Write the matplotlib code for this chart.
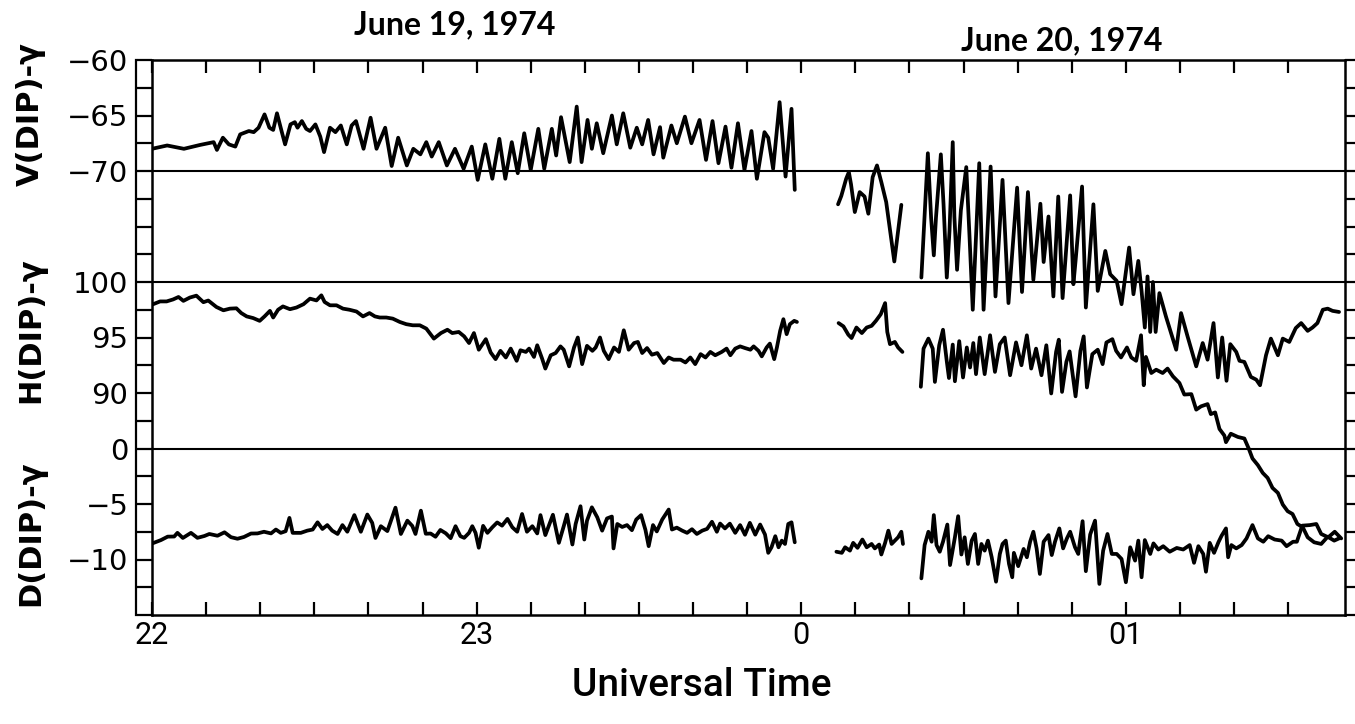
import numpy as np
import matplotlib.pyplot as plt

# ------------------------------------------------------------------ data
# time in minutes after 22:00 UT, field values in gamma (nT)

v1_t = [0, 2.8, 5.9, 8.9, 11.4, 12.0, 13.1, 14.2, 15.4, 16.3, 17.9, 18.8, 19.7, 20.8, 21.7, 22.4,
        23.1, 24.0, 24.6, 25.6, 26.4, 26.9, 27.7, 28.5, 29.2, 30.2, 31.1, 31.8, 32.9, 33.9, 34.9,
        36.0, 36.9, 37.7, 39.1, 40.4, 41.5, 43.1, 44.3, 45.5, 47.1, 48.3, 49.6, 50.7, 51.7,
        53.0, 54.5, 56.0, 57.6, 59.1, 60.2, 61.6, 62.9, 64.2, 65.3, 66.5, 67.6, 68.8, 70.0, 71.4,
        72.5, 73.9, 74.7, 75.6, 77.2, 78.5, 79.4, 80.5, 81.3, 82.2, 83.4, 85.0, 85.9, 87.1, 88.4,
        89.6, 90.6, 91.7, 92.7, 93.9, 94.5, 96.0, 97.0, 98.5, 99.7, 101.2, 102.4, 103.6, 104.7,
        106.0, 107.1, 108.3, 109.5, 110.8, 111.8, 113.2, 113.9, 114.8, 116.0, 117.1, 118.2, 118.8]
v1 = [-68.0, -67.7, -68.0, -67.65, -67.4, -68.1, -67.0, -67.6, -67.8, -66.7, -66.4, -66.5, -66.1,
      -64.9, -66.1, -66.3, -64.8, -66.5, -67.6, -65.8, -65.6, -66.1, -65.5, -66.2, -66.4, -65.8,
      -66.9, -68.3, -66.1, -66.5, -65.9, -67.6, -65.9, -65.5, -68.0, -65.2, -68.0, -66.1, -69.55,
      -67.0, -69.5, -68.0, -68.5, -67.4, -68.7,
      -67.4, -69.5, -68.0, -69.8, -67.8, -70.8, -67.6, -70.7, -67.1, -70.7, -67.4, -70.2, -66.6,
      -69.9, -66.2, -69.8, -66.2, -68.6, -65.15, -69.2, -64.2, -69.2, -65.4, -68.0, -65.7, -68.4,
      -65.0, -67.6, -64.8, -67.9, -66.1, -67.6, -65.4, -68.5, -66.05, -68.8, -65.9, -67.5, -65.1,
      -67.5, -65.4, -69.0, -65.5, -69.3,
      -66.0, -69.7, -65.7, -69.9, -66.4, -70.7, -66.5, -67.0, -69.8, -63.8, -70.5, -64.4, -71.7]

v2_t = [126.8, 127.4, 128.3, 128.8, 129.2, 129.9, 130.8, 131.7, 132.4, 133.2, 134.0, 134.8,
        135.7, 137.2, 138.5]
v2 = [-73.0, -72.25, -70.7, -70.1, -71.2, -73.7, -71.9, -72.3, -73.85, -70.55, -69.5, -71.0,
      -72.8, -78.15, -73.05]

v3_t = [142.2, 143.4, 144.0, 144.5, 144.9, 145.8, 146.3, 146.9, 147.4, 148.0, 148.3, 148.8,
        149.5, 150.5, 151.1, 151.7, 152.9, 153.7, 155.0, 155.9, 157.2, 158.3, 159.9, 160.8,
        161.9, 162.9, 164.2, 164.8, 165.7, 166.6, 167.5, 168.3, 169.7, 170.3, 170.7, 171.9,
        172.6, 174.0, 174.8, 176.2, 177.1, 178.3, 179.2, 180.6, 181.4, 182.3, 182.9, 183.5,
        184.0, 184.5, 185.0, 185.5, 186.2, 187.4, 189.3, 190.2, 191.4, 193.0, 194.2, 195.1,
        196.2, 197.0, 197.8, 198.6, 199.3, 200.4, 201.0, 201.9, 203.1, 204.1, 204.8, 205.9,
        206.8, 208.1, 209.0, 210.2, 211.4, 212.4, 213.6, 214.5, 215.4, 216.4, 217.3, 218.2, 219.4]
v3 = [-79.6, -68.4, -74.2, -77.6, -74.2, -68.5, -73.0, -79.6, -75.4, -67.4, -74.1, -78.9,
      -73.55, -69.65, -75.9, -82.5, -69.3, -82.5, -69.6, -81.3, -70.8, -81.9, -71.5, -80.9,
      -71.9, -79.8, -72.95, -78.2, -74.1, -81.3, -72.3, -81.45, -72.2, -80.2, -78.1, -71.4,
      -82.3, -73.0, -80.8, -77.2, -79.3, -79.9, -82.0, -76.9, -81.1, -78.1, -80.8, -84.1,
      -79.5, -84.5, -80.0, -84.5, -81.0, -83.1, -86.1, -82.8, -84.9, -87.6, -85.5, -87.0,
      -83.7, -88.6, -85.0, -88.9, -85.6, -86.3, -87.1, -87.2, -88.55, -88.8, -89.3, -86.6,
      -85.1, -86.6, -85.1, -85.4, -84.15, -83.7, -84.4, -84.1, -83.7, -82.5, -82.4, -82.6, -82.7]

h1_t = [0, 1.5, 2.7, 3.9, 4.9, 5.8, 7.0, 8.2, 9.5, 10.4, 11.9, 13.2, 14.4, 15.6, 16.5, 17.5,
        18.7, 19.9, 20.8, 21.8, 22.4, 23.3, 24.2, 25.5, 26.7, 28.0, 29.2, 30.4, 31.3, 31.9, 32.9,
        34.1, 35.3, 36.5, 37.8, 39.0, 40.2, 41.2, 42.1, 43.3, 44.5, 45.8, 47.0, 48.2, 49.5, 50.7,
        52.1, 53.4, 54.6, 55.5, 56.7, 57.7, 58.6, 59.5, 60.4, 61.7, 62.6, 63.5, 64.4, 65.4, 66.3,
        67.4, 68.1, 69.1, 69.7, 70.6, 71.2, 72.1, 72.7, 73.7, 74.6, 75.5, 76.1, 77.1, 78.0, 78.7,
        79.5, 80.4, 81.4, 82.0, 82.8, 83.5, 84.4, 85.4, 86.3, 87.2, 88.1, 89.1, 89.8, 90.6, 91.5,
        92.4, 93.4, 94.6, 95.5, 96.4, 97.7, 98.6, 99.5, 100.4, 101.4, 102.3, 103.2, 104.1,
        105.3, 106.2, 106.9, 107.8, 108.7, 109.6, 110.6, 111.2, 112.1, 112.7, 113.6, 114.2,
        115.0, 115.5, 116.1, 116.7, 117.3, 117.9, 118.7, 119.2]
h1 = [97.96, 98.25, 98.25, 98.43, 98.65, 98.3, 98.6, 98.77, 98.18, 98.33, 97.75, 97.45, 97.6,
      97.63, 97.2, 96.9, 96.75, 96.5, 96.9, 97.4, 96.8, 97.5, 97.8, 97.55, 97.7, 98.0, 98.5,
      98.34, 98.8, 98.2, 97.9, 97.9, 97.6, 97.5, 97.34, 96.9, 97.2, 96.9, 96.8, 96.8, 96.7,
      96.4, 96.2, 96.1, 96.1, 95.8,
      94.9, 95.4, 95.7, 95.4, 95.5, 95.1, 94.5, 95.4, 93.9, 94.85, 93.65, 93.05, 93.8, 93.2,
      94.0, 92.9, 93.85, 93.7, 94.0, 93.25, 94.3, 93.1, 92.2, 93.4, 93.6, 94.2, 93.9, 92.4,
      94.1, 95.0, 92.6, 94.25, 93.8, 94.1, 95.0, 93.8, 93.05, 94.1, 93.7, 95.65, 93.9, 94.5,
      94.6, 93.6, 94.05, 93.45, 93.6, 92.7, 93.2, 93.0, 93.0, 92.75, 93.2, 92.6, 93.5, 93.2,
      93.7, 93.4,
      93.7, 94.0, 93.4, 94.0, 94.2, 94.05, 93.9, 94.2, 93.8, 93.3, 94.1, 94.45, 93.05, 94.1,
      95.6, 96.65, 95.3, 96.2, 96.5, 96.4]

h2_t = [126.9, 127.8, 128.7, 129.3, 130.2, 131.2, 132.1, 133.0, 133.8, 134.7, 135.5, 135.9,
        136.4, 137.3, 137.9, 138.7]
h2 = [96.3, 96.0, 95.25, 94.95, 95.9, 95.4, 95.9, 96.05, 96.5, 97.1, 98.1, 95.5, 94.4, 94.6,
      94.1, 93.7]

h3_t = [142.1, 142.6, 143.5, 144.3, 144.7, 145.5, 146.2, 146.9, 147.3, 148.0, 148.4, 149.2,
        149.9, 150.6, 151.2, 151.8, 152.3, 153.0, 153.9, 154.9, 155.8, 156.7, 157.6, 158.6,
        159.7, 160.7, 161.7, 162.5, 163.4, 164.4, 165.3, 166.2, 167.1, 167.6, 168.2, 169.0,
        169.6, 170.7, 171.6, 172.2, 172.8, 173.8, 174.8, 175.7, 176.4, 177.5, 178.2, 179.1,
        180.2, 181.0, 181.9, 182.8, 183.3, 183.7, 184.7, 185.6, 186.8, 187.7, 188.7, 189.9,
        190.8, 192.1, 193.0, 193.9, 195.1, 195.7, 196.5, 197.3, 198.2, 198.5, 199.4, 200.7,
        201.9, 202.7, 203.4, 204.4, 205.3, 206.2, 207.1, 208.1, 209.0, 209.9, 210.8, 211.7,
        212.7, 213.6, 214.8, 216.1, 217.3, 218.5, 219.4]
h3 = [90.56, 94.0, 94.9, 94.0, 91.0, 94.3, 95.7, 92.85, 91.35, 94.36, 91.06, 94.67, 91.4, 94.1,
      92.3, 94.5, 91.7, 95.0, 91.7, 95.2, 91.9, 94.4, 95.0, 91.6,
      94.56, 92.5, 95.2, 92.2, 94.0, 91.6, 94.3, 89.96, 93.7, 94.8, 90.1, 92.8, 93.75, 89.7,
      93.8, 95.1, 90.5, 93.5, 93.9, 92.6, 94.55, 94.85, 93.8, 93.2, 94.1, 93.2, 92.9, 95.2,
      90.7, 93.25, 91.8, 92.1, 91.8, 92.2, 91.5, 90.9, 89.86, 89.9, 88.5, 88.8, 89.0, 88.1,
      88.25, 86.76, 86.17, 85.57, 86.33, 86.04, 85.9, 85.0, 84.1, 83.5, 82.8, 82.35, 81.45,
      81.0, 79.95, 79.35, 79.1, 78.2, 77.9, 77.0, 76.55, 76.4, 77.05, 76.7, 76.9]

d1_t = [0, 1.66, 2.9, 4.1, 4.7, 5.7, 7.2, 8.4, 9.7, 10.6, 12.1, 13.4, 14.6, 15.8, 17.0, 18.3,
        19.5, 20.7, 22.0, 22.9, 23.8, 24.7, 25.4, 26.0, 27.5, 28.7, 29.7, 30.6, 31.5, 32.4, 33.3,
        34.3, 35.2, 36.1, 37.4, 38.6, 39.8, 40.7, 41.3, 42.3, 43.5, 45.0, 46.0, 47.2, 48.1, 48.7,
        49.7, 50.6,
        51.5, 52.4, 53.3, 54.3, 55.2, 56.1, 57.0, 57.7, 58.6, 59.2, 59.8, 60.4, 61.2, 62.0, 62.9,
        63.8, 64.7, 65.7, 66.6, 67.5, 68.4, 69.3, 70.3, 71.2, 71.8, 72.7, 74.1, 75.2, 76.1, 76.7,
        77.7, 78.3, 79.2, 79.9, 80.4, 81.3, 82.3, 83.2, 84.1, 85.0, 85.3, 86.0, 86.9, 87.8, 88.7,
        89.5, 90.4, 91.2, 91.8, 92.6, 93.3, 94.3, 95.5, 96.1, 97.0, 98.0, 98.9, 99.8, 100.7,
        101.7, 102.6, 103.5, 104.4,
        105.0, 105.9, 106.8, 107.8, 108.7, 109.6, 110.5, 111.5, 112.4, 113.3, 113.9, 114.5,
        115.2, 115.8, 116.4, 117.0, 117.6, 118.2, 118.8]
d1 = [-8.56, -8.25, -7.94, -7.93, -7.6, -8.06, -7.6, -8.05, -7.88, -7.7, -7.86, -7.55, -7.99,
      -8.13, -7.97, -7.66, -7.65, -7.5, -7.65, -7.3, -7.6, -7.45, -6.25, -7.6, -7.6, -7.4, -7.3,
      -6.65, -7.25, -6.9, -7.4, -7.7, -6.9, -7.5, -6.0, -7.5, -5.95, -6.7, -8.06, -7.0, -7.44,
      -5.33, -7.7, -6.5, -6.97, -7.7, -5.6, -7.68,
      -7.66, -7.95, -7.34, -7.64, -8.08, -7.0, -7.9, -8.05, -7.6, -7.0, -7.6, -8.94, -6.97,
      -7.6, -7.1, -6.66, -6.95, -6.34, -7.1, -7.5, -5.9, -7.5, -7.0, -7.65, -6.0, -7.8, -5.97,
      -8.5, -7.0, -5.95, -8.65, -6.8, -5.2, -8.2, -6.5, -5.3, -6.2, -7.4, -6.3, -6.13, -9.0,
      -6.8, -7.07, -6.9, -7.36, -6.4, -6.0, -7.33, -8.8, -6.9, -7.47, -6.4, -5.5, -7.3, -7.13,
      -7.4, -7.6, -7.27, -7.7, -7.4, -7.24, -6.6, -7.5,
      -6.76, -7.2, -6.77, -7.6, -6.9, -7.77, -6.7, -7.76, -6.85, -7.75, -9.4, -8.9, -7.9,
      -8.9, -8.3, -8.6, -6.8, -6.65, -8.45]

d2_t = [126.5, 127.5, 128.1, 129.0, 129.6, 130.4, 131.3, 132.1, 133.0, 133.6, 134.4, 134.8,
        135.5, 136.1, 136.7, 137.3, 137.9, 138.5, 138.8]
d2 = [-9.3, -9.4, -8.9, -9.2, -8.5, -8.95, -8.2, -8.9, -8.6, -9.0, -8.65, -9.55, -8.5, -7.4,
      -8.6, -8.3, -8.0, -7.5, -8.6]

d3_t = [142.2, 142.8, 143.5, 144.1, 144.5, 145.0, 145.6, 146.2, 147.0, 147.5, 148.4, 149.0,
        149.6, 150.2, 150.8, 151.5, 152.1, 152.7, 153.3, 153.9, 154.5, 155.2, 156.0, 156.7,
        157.2, 157.8, 158.4, 159.0,
        159.3, 160.1, 161.1, 161.7, 162.3, 162.9, 163.5, 164.1, 164.8, 165.7, 166.3, 166.9,
        167.7, 168.4, 169.1, 169.7, 170.6, 171.2, 172.0, 172.6, 173.4, 174.3, 175.1, 175.8,
        176.6, 177.4, 178.3, 179.2, 180.0, 180.8, 181.7, 182.3, 182.9, 183.5, 184.5, 185.1,
        186.0, 186.9, 188.1, 189.4, 190.6, 191.8, 192.6, 193.4, 194.3, 194.8, 195.5, 196.3,
        197.1, 197.7, 198.5, 198.9, 199.5, 200.4, 201.4, 202.3, 203.4, 204.4, 205.4, 206.3,
        207.5, 208.8, 209.7, 210.9, 211.6, 212.6, 214.0, 215.2, 216.1, 217.4, 218.6, 219.8]
d3 = [-11.7, -8.7, -7.5, -8.4, -6.0, -8.7, -9.3, -8.4, -6.85, -10.5, -8.0, -6.1, -9.55, -8.0,
      -10.4, -8.3, -7.7, -10.4, -8.6, -9.2, -8.3, -9.8, -12.0, -9.5, -8.6, -8.3, -10.4, -11.6,
      -9.4, -10.6, -9.05, -9.8, -8.4, -7.5, -9.0, -11.3, -8.4, -7.8, -9.6, -8.4, -7.2, -9.0,
      -8.1, -7.5, -8.9, -9.5, -6.55, -11.05, -7.75, -6.5, -12.2, -9.2, -7.7, -9.5, -9.5,
      -9.95, -12.05, -8.9, -10.1, -8.3, -11.6, -8.25, -9.5, -8.55, -9.1, -8.8, -9.3, -8.96,
      -9.1, -8.7, -10.3, -8.8, -9.5, -11.1, -8.5, -9.4, -8.45, -7.85, -7.2, -9.8, -8.7, -9.0,
      -8.7, -8.1, -6.9, -8.1, -8.4, -7.9, -8.2, -8.3, -8.8, -8.4, -8.4, -6.95, -6.9, -6.8,
      -7.7, -8.0, -7.5, -8.1]

# each component sits on its own zero of one common vertical scale
v_off, h_off, d_off = 110, -70, 15
v_ref, h_ref, d_ref = -70, 100, 0

hour_ticks = [0, 60, 120, 180]
hour_labels = ['22', '23', '0', '01']
y_label_pos = {50: '\u221260', 45: '\u221265', 40: '\u221270', 30: '100', 25: '95',
               20: '90', 15: '0', 10: '\u22125', 5: '\u221210'}

# ------------------------------------------------------------------ figure
fig = plt.figure(figsize=(13.55, 7.24), dpi=100)
ax = fig.add_axes([152 / 1355, 1 - 615 / 724, 1193 / 1355, 555 / 724])

trace = dict(color='k', lw=2.7, solid_joinstyle='round', solid_capstyle='round')
for t, v in [(v1_t, v1), (v2_t, v2), (v3_t, v3)]:
    ax.plot(t, np.array(v) + v_off, **trace)
for t, h in [(h1_t, h1), (h2_t, h2), (h3_t, h3)]:
    ax.plot(t, np.array(h) + h_off, **trace)
for t, d in [(d1_t, d1), (d2_t, d2), (d3_t, d3)]:
    ax.plot(t, np.array(d) + d_off, **trace)

# baselines
for lvl in [v_ref + v_off, h_ref + h_off, d_ref + d_off]:
    ax.axhline(lvl, color='k', lw=1.5)

ax.set_xlim(0, 220.5)
ax.set_ylim(0, 50)
for s in ax.spines.values():
    s.set_linewidth(1.8)

ax.set_xticks(np.arange(0, 220, 10))
ax.set_xticklabels([hour_labels[hour_ticks.index(m)] if m in hour_ticks else ''
                    for m in range(0, 220, 10)],
                   family='Roboto', fontsize=22)
ax.tick_params(axis='x', direction='in', top=True, length=9.5, width=1.6, pad=4)

ticks_y = np.arange(0, 50.1, 2.5)
ax.set_yticks(ticks_y)
ax.set_yticklabels([y_label_pos.get(int(k) if k == int(k) else k, '') for k in ticks_y],
                   fontsize=21)
ax.tick_params(axis='y', direction='out', right=True, length=11, width=1.6, pad=6)

# outer rail of the left scale
ax.plot([-16 / 1193] * 2, [0, 1], transform=ax.transAxes, color='k', lw=1.6, clip_on=False)

# component labels
for txt, ypix in [('V(DIP)-\u03b3', 114), ('H(DIP)-\u03b3', 330), ('D(DIP)-\u03b3', 533)]:
    fig.text(31 / 1355, 1 - ypix / 724, txt, rotation=90, ha='center', va='center',
             fontsize=22, fontweight='semibold')

fig.text(455 / 1355, 1 - 25 / 724, 'June 19, 1974', ha='center', va='center',
         family='Lato', fontsize=23, fontweight='bold')
fig.text(1062 / 1355, 1 - 41 / 724, 'June 20, 1974', ha='center', va='center',
         family='Lato', fontsize=23, fontweight='bold')
fig.text(702 / 1355, 1 - 686 / 724, 'Universal Time', ha='center', va='center',
         family='Roboto', fontsize=28, fontweight='medium')

fig.savefig('out.png', dpi=100)
